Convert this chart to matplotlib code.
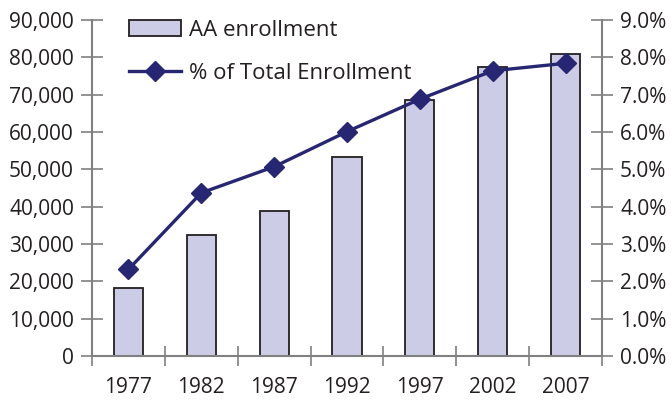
import numpy as np
import matplotlib
matplotlib.use("Agg")
import matplotlib.pyplot as plt
from matplotlib.patches import Patch
from matplotlib.lines import Line2D
from matplotlib.ticker import FuncFormatter

years = ["1977", "1982", "1987", "1992", "1997", "2002", "2007"]
aa_enrollment = [18100, 32300, 38800, 53400, 68600, 77500, 80800]
pct_total = [2.32, 4.37, 5.07, 6.01, 6.88, 7.64, 7.84]

plt.rcParams['font.family'] = ['Open Sans', 'DejaVu Sans']
plt.rcParams['font.size'] = 15
text_color = '#231f20'
axis_gray = '#808080'
bar_fill = '#ccccE6'
navy = '#262673'

fig = plt.figure(figsize=(6.71, 4.0), dpi=100)
ax = fig.add_axes([92 / 671, 44 / 400, 510 / 671, 336 / 400])
x = np.arange(len(years))

ax.bar(x, aa_enrollment, width=0.4, color=bar_fill, edgecolor='#231f20', linewidth=1.3, zorder=2)
ax.set_xlim(-0.5, len(years) - 0.5)
ax.set_ylim(0, 90000)
ax.set_yticks(np.arange(0, 90001, 10000))
ax.yaxis.set_major_formatter(FuncFormatter(lambda v, p: f"{int(v):,}"))

# category boundaries get the tick marks, centers get the labels
ax.set_xticks(np.arange(-0.5, len(years), 1))
ax.set_xticklabels([])
ax.set_xticks(x, minor=True)
ax.set_xticklabels(years, minor=True)
ax.tick_params(axis='x', which='minor', length=0, pad=15, labelcolor=text_color)
ax.tick_params(axis='x', which='major', direction='inout', length=15, width=1.2, color=axis_gray)
ax.tick_params(axis='y', direction='inout', length=16, width=1.2, color=axis_gray, pad=5, labelcolor=text_color)

for s in ['top', 'right']:
    ax.spines[s].set_visible(False)
for s in ['left', 'bottom']:
    ax.spines[s].set_color(axis_gray)
    ax.spines[s].set_linewidth(1.5)

ax2 = ax.twinx()
ax2.plot(x, pct_total, color=navy, linewidth=2.4, marker='D', markersize=10, zorder=3)
ax2.set_ylim(0, 9)
ax2.set_yticks(np.arange(0, 9.01, 1))
ax2.yaxis.set_major_formatter(FuncFormatter(lambda v, p: f"{v:.1f}%"))
ax2.tick_params(axis='y', direction='inout', length=16, width=1.2, color=axis_gray, pad=5, labelcolor=text_color)
for s in ['top', 'left', 'bottom']:
    ax2.spines[s].set_visible(False)
ax2.spines['right'].set_color(axis_gray)
ax2.spines['right'].set_linewidth(1.5)

handles = [
    Patch(facecolor=bar_fill, edgecolor='#231f20', linewidth=1.3),
    Line2D([0], [0], color=navy, linewidth=2.4, marker='D', markersize=10),
]
leg = ax2.legend(handles, ["AA enrollment", "% of Total Enrollment"], loc='upper left',
                 bbox_to_anchor=(129 / 671, 1 - 20 / 400), bbox_transform=fig.transFigure,
                 frameon=False, fontsize=16, handlelength=2.35, handletextpad=0.36,
                 labelspacing=1.0, borderpad=0, borderaxespad=0)
for t in leg.get_texts():
    t.set_color(text_color)

fig.savefig("out.png", dpi=100)
